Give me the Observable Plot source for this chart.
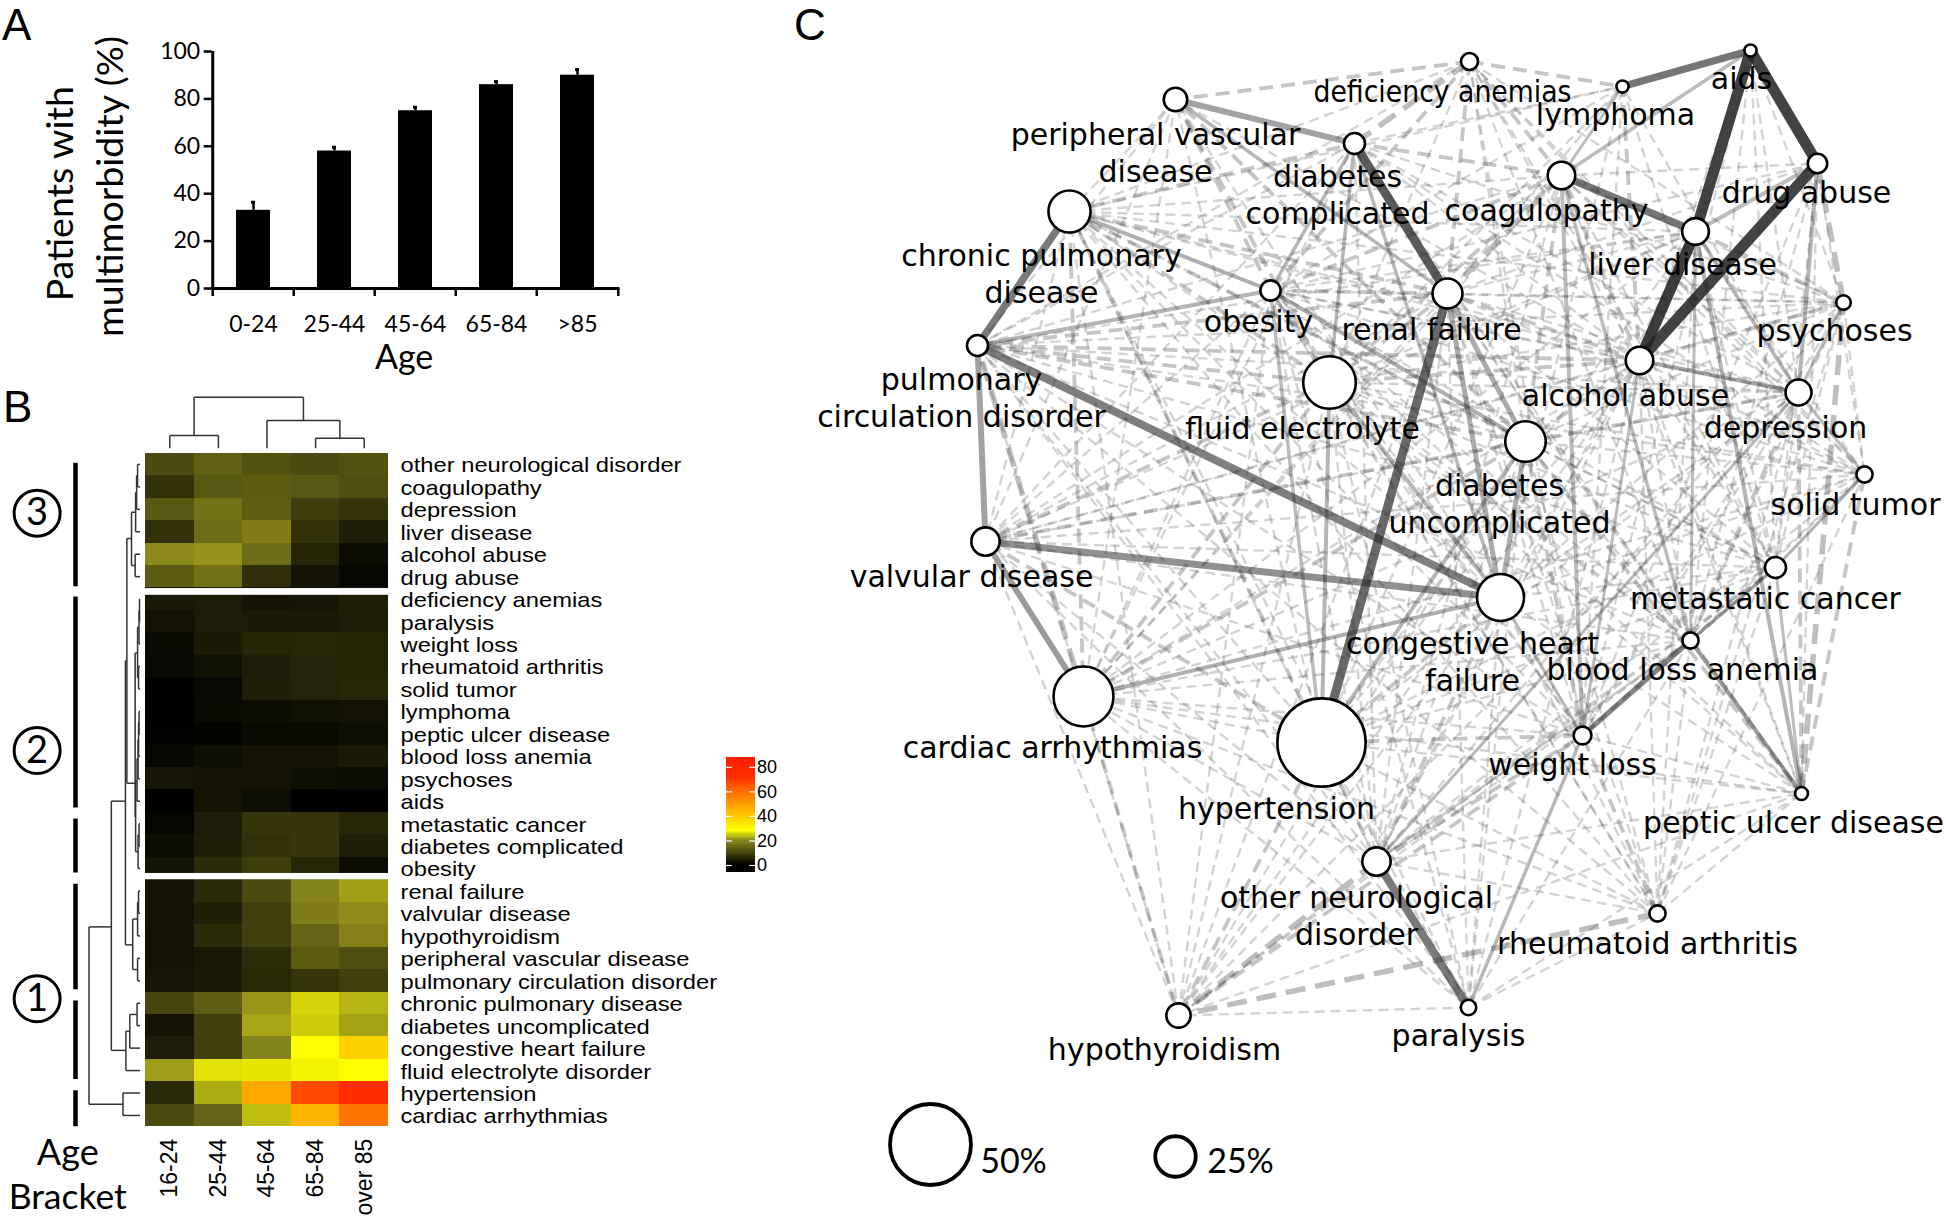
<!DOCTYPE html>
<html><head><meta charset="utf-8">
<script src="https://cdn.jsdelivr.net/npm/d3@7"></script>
<script src="https://cdn.jsdelivr.net/npm/@observablehq/plot@0.6"></script>
<style>
html,body{margin:0;background:#fff}
#page{position:relative;width:1946px;height:1218px;overflow:hidden;background:#fff}
#page>svg,#page>figure{position:absolute;margin:0}
.letter{position:absolute;font:44px "Liberation Sans";color:#000}
</style></head><body><div id="page"></div>
<script>
// ---------- Panel A ----------
const ageBars = ["0-24","25-44","45-64","65-84",">85"];
const multimorbidity = [33,58,75,86,90];
const multimorbidityTop = [36.4,59.6,76.5,87.3,92.4];
// ---------- Panel B ----------
const conditions = ["other neurological disorder","coagulopathy","depression","liver disease","alcohol abuse","drug abuse","deficiency anemias","paralysis","weight loss","rheumatoid arthritis","solid tumor","lymphoma","peptic ulcer disease","blood loss anemia","psychoses","aids","metastatic cancer","diabetes complicated","obesity","renal failure","valvular disease","hypothyroidism","peripheral vascular disease","pulmonary circulation disorder","chronic pulmonary disease","diabetes uncomplicated","congestive heart failure","fluid electrolyte disorder","hypertension","cardiac arrhythmias"];
const ageBrackets = ["16-24","25-44","45-64","65-84","over 85"];
const prevalence = [
[10.7,13.5,11.5,10.5,11.5],[7.2,12.5,13,12.5,11],[12.5,16.2,13.3,8.7,7.4],[7,15.4,17.7,7,4.3],[19.5,20.5,15.4,5.2,1.7],[13,16,6.7,2.6,.9],
[3.5,4,2.9,3.2,4.6],[2.6,4,3.8,3.8,4.3],[1.4,3.8,5.2,5.5,5.2],[1.2,2.3,4,5,5.2],[0,1.2,4.3,5,5.5],[0,1.4,1.7,2.3,2.6],[.3,.6,1.3,1.3,2],[.9,2,2.9,2.9,3.8],[3.2,2.9,2.6,2,1.7],[0,2.9,2,.2,.2],[.9,4,7.5,7.4,5.5],[1.7,4.3,7,7.5,4.3],[3,6.1,8.7,5.4,1.7],
[2.9,6.1,10.7,18.5,21.3],[2.9,4.6,9,17.7,20],[2.6,6.1,9,14.2,18.3],[2.6,3.5,6.4,13,11],[3.2,3.8,5.8,7.4,9],[9.8,13.3,20.6,25,22.8],[2.9,9,21.8,24.5,21.5],[4,9,18.5,28.5,38],[21.1,25.9,26.2,27.1,28.5],[6,22.3,47,66,72],[10.5,14,23.4,44,58]];
const colorStops = [0,20,28,40,50,60,72,88];
const colorRange = ["#000000","#8f8c1c","#ffff00","#ffc800","#ff9a00","#ff6a00","#ff2c00","#ff1c00"];
const legendTicks = [0,20,40,60,80];
// [row a, height a, row b, height b, merge height]
const rowMerges = [[.5,0,1.5,0,.05],[1,.05,2.5,0,.07],[1.75,.07,3.5,0,.09],[4.5,0,5.5,0,.1],[2.63,.09,5,.1,.175],
[6.5,0,7.5,0,.01],[7,.01,8.5,0,.02],[9.5,0,10.5,0,.03],[7.75,.02,10,.03,.05],[11.5,0,12.5,0,.02],[12,.02,13.5,0,.03],[12.75,.03,14.5,0,.04],[13.6,.04,15.5,0,.06],[16.5,0,17.5,0,.02],[17,.02,18.5,0,.04],[14.6,.06,17.75,.04,.09],[8.9,.05,16.2,.09,.1],
[3.8,.175,14.7,.1,.27],[9.25,.27,21.9,.15,.3],
[19.5,0,20.5,0,.03],[20,.03,21.5,0,.05],[22.5,0,23.5,0,.05],[20.75,.05,23,.05,.15],
[24.5,0,25.5,0,.06],[25,.06,26.5,0,.21],[25.75,.21,27.5,0,.29],[15.5,.3,26.6,.29,.59],[28.5,0,29.5,0,.35],[21.1,.59,29,.35,1.05]];
// [col a, height a, col b, height b, merge height]
const columnMerges = [[.5,.22,1.5,.22,.79],[3.5,.22,4.5,.22,.67],[2.5,.22,4,.67,1.46],[1,.79,3.25,1.46,2.49]];
const clusterBars = [[.45,5.95],[6.4,15.8],[16.3,18.7],[19.2,23.9],[24.4,27.9],[28.4,30]];
const clusterMarks = [["3",2.67],["2",13.24],["1",24.3]];
const groupGaps = [[6.03,6.33],[18.72,19]];
// ---------- Panel C ----------
const nodeCode = ["def","aid","lym","per","dco","dru","coa","chr","liv","ren","obe","psy","pul","alc","flu","dep","dun","sol","val","met","chf","blo","car","hyp","wei","pep","oth","rhe","thy","par"];
const nodeX = [1469,1750,1622,1175,1354,1817,1561,1069,1695,1447,1270,1843,977,1639,1329,1798,1525,1864,985,1775,1500,1690,1083,1321,1582,1801,1376,1657,1178,1468];
const nodeY = [61,50,86,99,143,163,175,211,231,293,290,302,345,360,382,392,441,474,541,567,597,640,696,742,735,793,861,913,1015,1007];
const nodePct = [10.5,7.5,7.5,14.5,13,12,17,26,16.5,18.5,12.5,9,13,17,32.5,16,25,10,17.5,13,29,10,37,54.5,11,8,17.5,10,15,9.5];
const nodeLabel = ["deficiency anemias","aids","lymphoma","peripheral vascular\ndisease","diabetes\ncomplicated","drug abuse","coagulopathy","chronic pulmonary\ndisease","liver disease","renal failure","obesity","psychoses","pulmonary\ncirculation disorder","alcohol abuse","fluid electrolyte","depression","diabetes\nuncomplicated","solid tumor","valvular disease","metastatic cancer","congestive heart\nfailure","blood loss anemia","cardiac arrhythmias","hypertension","weight loss","peptic ulcer disease","other neurological\ndisorder","rheumatoid arthritis","hypothyroidism","paralysis"];
const labelX = [1442,1741,1615,1155,1337,1806,1546,1041,1682,1431,1258,1834,961,1625,1302,1785,1499,1855,971,1765,1472,1682,1052,1276,1572,1793,1356,1647,1164,1458];
const labelY = [90,77,113,151,193,191,209,272,263,328,320,329,396,394,427,426,502,503,575,597,660,668,746,807,763,821,914,942,1048,1034];
const solidLinks = [
["aid","liv",11,.85],["aid","dru",11,.85],["dru","alc",11,.85],["liv","alc",11,.88],["aid","lym",7.5,.62],["coa","liv",7.5,.62],
["dco","ren",9,.74],["ren","hyp",9,.68],["chr","pul",7.5,.6],["pul","chf",8,.58],["val","chf",7,.5],["pul","val",6,.42],["val","car",6,.45],
["per","dco",6,.42],["per","ren",3.5,.33],["chr","obe",4,.36],["obe","pul",4,.34],["obe","dun",4,.36],["obe","dco",3.5,.33],["obe","hyp",3.5,.3],
["dco","flu",3.5,.33],["dco","chf",3.5,.32],["ren","dun",5,.38],["ren","chf",5,.38],["flu","chf",4,.33],["flu","hyp",4,.33],["chf","car",4,.36],["chf","dun",5,.36],["hyp","dun",4,.33],
["oth","par",8,.6],["oth","dep",3,.32],["par","wei",3.5,.32],["wei","blo",5,.55],["blo","met",3.5,.42],["met","sol",3,.35],["blo","pep",4,.46],["liv","pep",4,.34],
["wei","coa",4,.3],["wei","alc",3,.3],["wei","chf",3,.33],["blo","liv",3,.3],["blo","coa",3.5,.3],["dep","liv",3.5,.34],["dep","dru",4,.34],["dep","alc",4,.4],["dep","sol",3,.3],["dep","psy",3,.3],["liv","dru",4,.3],["coa","lym",3,.3],["coa","aid",3.5,.3],["pep","met",3,.3],["oth","blo",2.5,.25]];
const dashThin = [
"def per chr obe pul ren alc flu dep dun sol wei met blo psy",
"aid psy alc dep blo met wei",
"lym dco chr obe ren alc dep flu wei met chf",
"per chr obe pul flu alc dun val chf car hyp",
"dco chr obe psy pul alc dep sol val blo car oth",
"dru coa obe ren sol met blo wei pep",
"coa chr obe psy pul alc dep sol val met car hyp pep oth",
"chr liv psy alc flu dep dun val met chf blo car hyp wei oth rhe thy par",
"liv ren obe psy pul flu sol val met car hyp oth rhe",
"ren psy pul alc flu dep sol val met blo car wei pep oth rhe thy par",
"obe psy alc flu dep sol val met chf blo car wei pep oth rhe thy par",
"psy pul alc flu dun sol val met chf blo wei pep oth rhe",
"pul alc flu dep dun sol met blo car hyp wei oth rhe thy par",
"alc flu dun sol val met chf blo car hyp pep oth rhe thy par",
"flu dep dun sol val met blo car wei pep oth rhe thy par",
"dep dun val met chf blo car hyp wei pep oth rhe thy",
"dun sol val met blo car wei pep oth rhe thy par",
"sol val met chf blo car hyp wei pep oth rhe",
"val met blo hyp wei oth thy par",
"met chf car hyp wei pep oth rhe thy",
"chf pep oth rhe thy par",
"blo car hyp oth rhe thy par",
"car hyp wei pep oth rhe thy par",
"hyp pep oth rhe thy par",
"wei pep oth rhe thy",
"pep oth rhe thy par",
"oth rhe thy",
"rhe par",
"thy par"];
const dashMedium = [
"def lym coa per obe ren","coa dco alc dun flu obe","per obe dun flu","chr ren dco dun flu hyp car","pul ren dun flu alc","val hyp dun flu","chf hyp oth wei","hyp oth wei thy","oth thy wei","dep pep psy dun blo","sol pep","met pep","dun pep wei","wei rhe thy","car thy chr dun flu","psy liv pep alc","alc dep flu ren","obe ren flu","lym alc","dru psy","ren flu alc","dun alc","liv alc"];
const dashThick = ["thy rhe","dru psy dep","def dco","coa ren","pul car","psy pep","oth thy"];
const sizeLegend = [[930,1144,50,"50%",1013,1162],[1175,1156,25,"25%",1240,1162]];
// labels set tighter in the reference than the substitute font's natural width
const labelFit = {"deficiency anemias":0.89};

// ---------- shared ----------
const page = document.getElementById("page");
function place(el,left,top){el.style.left=left+"px";el.style.top=top+"px";el.style.position="absolute";page.appendChild(el);return el;}
function letter(t,l,tp){const d=document.createElement("div");d.className="letter";d.textContent=t;d.style.left=l+"px";d.style.top=tp+"px";page.appendChild(d);}
function fit(svg,factorOf){svg.querySelectorAll("text").forEach(t=>{const f=factorOf(t.textContent);if(f){t.setAttribute("textLength",(t.getComputedTextLength()*f).toFixed(1));t.setAttribute("lengthAdjust","spacingAndGlyphs");}});}
const heatColor = {type:"linear",domain:colorStops,range:colorRange,clamp:true};

// ---------- A ----------
const barRows = ageBars.map((age,i)=>({age,value:multimorbidity[i],top:multimorbidityTop[i]}));
const stepA = 81.56;
place(Plot.plot({
  width:640,height:400,marginLeft:211.7,marginRight:20.5,marginTop:51,marginBottom:112,
  style:{fontFamily:"Lato",fontSize:"23px",background:"transparent",color:"#000",overflow:"visible"},
  x:{type:"band",domain:ageBars,paddingInner:.577,paddingOuter:.2885,align:.5,axis:null},
  y:{domain:[0,100],axis:null},
  marks:[
    Plot.barY(barRows,{x:"age",y:"value",fill:"#000"}),
    Plot.ruleX(barRows,{x:"age",y1:"value",y2:"top",stroke:"#000",strokeWidth:2.5}),
    Plot.tickY(barRows,{x:"age",y:"top",stroke:"#000",strokeWidth:3,insetLeft:15,insetRight:15}),
    Plot.ruleY([0],{stroke:"#000",strokeWidth:3}),
    Plot.ruleX(ageBars,{x:d=>d,y1:-3.4,y2:0,dx:-stepA/2,stroke:"#000",strokeWidth:2.5}),
    Plot.ruleX([ageBars[4]],{x:d=>d,y1:-3.4,y2:0,dx:stepA/2,stroke:"#000",strokeWidth:2.5}),
    Plot.ruleX([ageBars[0]],{x:d=>d,y1:0,y2:100,dx:-stepA/2,stroke:"#000",strokeWidth:3}),
    Plot.axisY({ticks:[0,20,40,60,80,100],anchor:"left",tickSize:8,tickPadding:4,fontSize:23,strokeWidth:2.5,label:null}),
    Plot.axisX({anchor:"bottom",tickSize:0,tickPadding:27,fontSize:23,label:null}),
    Plot.text(["Age"],{frameAnchor:"bottom",dy:70,dx:-12,fontSize:34,fill:"#000",lineAnchor:"middle"}),
    Plot.text(["Patients with"],{frameAnchor:"left",y:40,dx:-151.7,rotate:-90,fontSize:37.5,fill:"#000",textAnchor:"middle"}),
    Plot.text(["multimorbidity (%)"],{frameAnchor:"left",y:43,dx:-101.7,rotate:-90,fontSize:37.5,fill:"#000",textAnchor:"middle"})
  ]}),0,0);

// ---------- B ----------
const cells = conditions.flatMap((c,r)=>ageBrackets.map((a,k)=>({r,k,v:prevalence[r][k]})));
const rowLinks = rowMerges.flatMap(([a,ha,b,hb,h])=>[
  {x1:-.113-h,y1:a,x2:-.113-ha,y2:a},{x1:-.113-h,y1:b,x2:-.113-hb,y2:b},{x1:-.113-h,y1:a,x2:-.113-h,y2:b}]);
const colLinks = columnMerges.flatMap(([a,ha,b,hb,h])=>[
  {x1:a,y1:-h,x2:a,y2:-ha},{x1:b,y1:-h,x2:b,y2:-hb},{x1:a,y1:-h,x2:b,y2:-h}]);
const heat = place(Plot.plot({
  width:700,height:838,marginLeft:145,marginRight:312,marginTop:72.7,marginBottom:91.8,
  style:{fontFamily:"Liberation Sans",fontSize:"21px",background:"transparent",color:"#000",overflow:"visible"},
  x:{domain:[0,5],axis:null},
  y:{domain:[0,30],reverse:true,axis:null},
  color:heatColor,
  marks:[
    Plot.rect(cells,{x1:"k",x2:d=>d.k+1,y1:"r",y2:d=>d.r+1,fill:"v",shapeRendering:"crispEdges"}),
    Plot.rect(groupGaps,{x1:-.02,x2:5.02,y1:d=>d[0],y2:d=>d[1],fill:"white"}),
    Plot.link(rowLinks,{x1:"x1",y1:"y1",x2:"x2",y2:"y2",stroke:"#333",strokeWidth:1.5}),
    Plot.link(colLinks,{x1:"x1",y1:"y1",x2:"x2",y2:"y2",stroke:"#333",strokeWidth:1.5}),
    Plot.ruleX(clusterBars,{x:-1.44,y1:d=>d[0],y2:d=>d[1],stroke:"#000",strokeWidth:4.5}),
    Plot.dot(clusterMarks,{x:-2.23,y:d=>d[1],r:23,stroke:"#000",strokeWidth:3,fill:"white"}),
    Plot.text(clusterMarks,{x:-2.23,y:d=>d[1],text:d=>d[0],fontFamily:"Lato",fontSize:38,fill:"#000"}),
    Plot.axisY({anchor:"right",ticks:conditions.map((c,i)=>i+.5),tickFormat:d=>conditions[d-.5],tickSize:0,tickPadding:12,dy:1.2,fontSize:21,label:null}),
    Plot.axisX({anchor:"bottom",ticks:ageBrackets.map((c,i)=>i+.5),tickFormat:d=>ageBrackets[d-.5],tickSize:0,tickPadding:12,tickRotate:-90,fontSize:23,label:null}),
    Plot.text(["Age"],{x:-1.6,y:31.2,fontFamily:"Lato",fontSize:36,fill:"#000"}),
    Plot.text(["Bracket"],{x:-1.6,y:33.17,fontFamily:"Lato",fontSize:35.5,fill:"#000"})
  ]}),0,380);
// the row names of the reference are set wider than the font's natural width
fit(heat,s=>conditions.includes(s)?1.13:0);

// colour legend
const legendRamp = d3.range(-6,88);
place(Plot.plot({
  width:60,height:115,marginLeft:0,marginRight:31,marginTop:0,marginBottom:0,
  style:{fontFamily:"Liberation Sans",fontSize:"17px",background:"transparent",color:"#000",overflow:"visible"},
  x:{domain:[0,1],axis:null},
  y:{domain:[-5.7,88],axis:null},
  color:heatColor,
  marks:[
    Plot.rect(legendRamp,{x1:0,x2:1,y1:d=>d,y2:d=>d+1,fill:d=>d,shapeRendering:"crispEdges"}),
    Plot.ruleY(legendTicks,{x1:0,x2:.2,stroke:"white",strokeWidth:1.2}),
    Plot.ruleY(legendTicks,{x1:.8,x2:1,stroke:"white",strokeWidth:1.2}),
    Plot.axisY({anchor:"right",ticks:legendTicks,tickSize:0,tickPadding:1.5,fontSize:18,label:null})
  ]}),726,757);

// ---------- C ----------
const at = Object.fromEntries(nodeCode.map((c,i)=>[c,i]));
const nodes = nodeCode.map((code,i)=>({code,x:nodeX[i],y:nodeY[i],pct:nodePct[i],label:nodeLabel[i],lx:labelX[i],ly:labelY[i]}));
const edge = (a,b,extra)=>({x1:nodeX[at[a]],y1:nodeY[at[a]],x2:nodeX[at[b]],y2:nodeY[at[b]],...extra});
const keyOf = (a,b)=>[a,b].sort().join("-");
const solidKeys = new Set(solidLinks.map(l=>keyOf(l[0],l[1])));
const tierOf = new Map();
for (const [list,tier] of [[dashThin,"thin"],[dashMedium,"medium"],[dashThick,"thick"]])
  for (const line of list){const [a,...rest]=line.split(" ");for(const b of rest){if(!solidKeys.has(keyOf(a,b)))tierOf.set(keyOf(a,b),tier);}}
const tierEdges = t=>[...tierOf].filter(d=>d[1]===t).map(d=>{const [a,b]=d[0].split("-");return edge(a,b);});
const solidEdges = solidLinks.map(([a,b,w,o])=>edge(a,b,{w,o}));
const linkXY = {x1:"x1",y1:"y1",x2:"x2",y2:"y2"};
const net = place(Plot.plot({
  width:1166,height:1218,margin:0,
  style:{fontFamily:"DejaVu Sans",background:"transparent",color:"#000",overflow:"visible"},
  x:{domain:[780,1946],axis:null},
  y:{domain:[0,1218],reverse:true,axis:null},
  r:{type:"linear",domain:[0,100],range:[0,81]},
  marks:[
    Plot.link(tierEdges("thin"),{...linkXY,stroke:"#555",strokeOpacity:.26,strokeWidth:2.4,strokeDasharray:"10 6"}),
    Plot.link(tierEdges("medium"),{...linkXY,stroke:"#555",strokeOpacity:.34,strokeWidth:3.8,strokeDasharray:"14 8"}),
    Plot.link(tierEdges("thick"),{...linkXY,stroke:"#555",strokeOpacity:.38,strokeWidth:5.5,strokeDasharray:"20 10"}),
    Plot.link(solidEdges,{...linkXY,stroke:"#222",strokeOpacity:"o",strokeWidth:"w"}),
    Plot.dot(nodes,{x:"x",y:"y",r:"pct",fill:"white",stroke:"#000",strokeWidth:2.6}),
    Plot.text(nodes,{x:"lx",y:"ly",text:"label",fontSize:30,lineHeight:1.233,fill:"#000"}),
    Plot.dot(sizeLegend,{x:d=>d[0],y:d=>d[1],r:d=>d[2],fill:"white",stroke:"#000",strokeWidth:3.8}),
    Plot.text(sizeLegend,{x:d=>d[4],y:d=>d[5],text:d=>d[3],fontFamily:"Lato",fontSize:34,fill:"#000"})
  ]}),780,0);
fit(net,s=>labelFit[s]||0);

letter("A",2,0);letter("B",3,382);letter("C",794,0);
</script></body></html>
